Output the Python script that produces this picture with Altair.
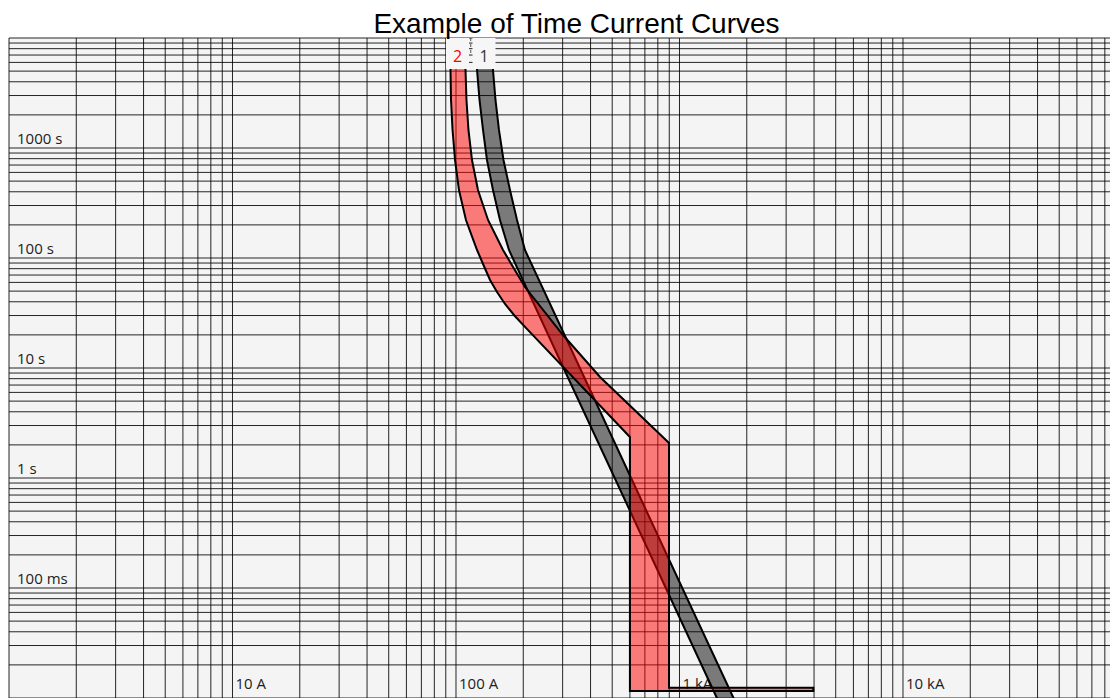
import math
import altair as alt
import pandas as pd

# ---- data: time-current bands (current in A, time in s) ----
# Curve 1 (grey band): lower (min) and upper (max) limits
c1_min_I = [122.9, 122.9, 124.2, 127.4, 132.1, 137.6, 146.4, 157.3, 172.6, 302.7, 513, 868.5, 1470, 1549]
c1_min_t = [11000, 10000, 5117, 2732, 1458, 778, 415, 221.6, 118.2, 10, 1, 0.1, 0.01, 0.008]
c1_max_I = [144.9, 144.9, 146.4, 150.2, 155.7, 163.1, 174.4, 187.5, 203.5, 358.4, 607.5, 1029, 1744, 1827]
c1_max_t = [11000, 10000, 5117, 2732, 1458, 778, 415, 221.6, 118.2, 10, 1, 0.1, 0.01, 0.008]

# Curve 2 (red band)
c2_min_I = [94.0, 94.0, 94.5, 95.0, 96.5, 99.0, 103.1, 110.8, 124.2, 132.7, 142.0, 152.6, 165.7,
            183.3, 209.6, 600, 600, 3970]
c2_min_t = [11000, 10000, 5117, 2732, 1458, 778, 415, 221.6, 118.2, 86.4, 63.1, 49.1, 38.2,
            29.7, 22.2, 2.36, 0.0116, 0.0116]
c2_max_I = [109.7, 109.7, 110.3, 111.4, 113.7, 117.9, 125.4, 139.1, 162.3, 203.5, 301.1, 441, 897.5, 897.5, 3970]
c2_max_t = [11000, 10000, 5117, 2732, 1458, 778, 415, 221.6, 118.2, 54.5, 19.95, 8.28, 2.08, 0.0124, 0.0124]

curve_names = ["1", "2"]
curve_colors = ["#333333", "#ff0000"]

# axis tick labels
x_label_values = [10, 100, 1000, 10000]
x_label_texts = ["10 A", "100 A", "1 kA", "10 kA"]
y_label_values = [0.1, 1, 10, 100, 1000]
y_label_texts = ["100 ms", "1 s", "10 s", "100 s", "1000 s"]

X_MIN, X_MAX = 1, 84370
Y_MIN, Y_MAX = 0.01, 10000

grid_x = [m * 10 ** k for k in range(0, 5) for m in range(1, 10)]
grid_y = [round(m * 10.0 ** k, 6) for k in range(-2, 4) for m in range(1, 10)] + [10000]


def poly(Imin, tmin, Imax, tmax, name):
    I = list(Imin) + list(Imax)[::-1]
    t = list(tmin) + list(tmax)[::-1]
    return pd.DataFrame({"I": I, "t": t, "order": list(range(len(I))), "curve": name})


df1 = poly(c1_min_I, c1_min_t, c1_max_I, c1_max_t, "1")
df2 = poly(c2_min_I, c2_min_t, c2_max_I, c2_max_t, "2")

x_scale = alt.Scale(type="log", domain=[X_MIN, X_MAX], nice=False, padding=0)
y_scale = alt.Scale(type="log", domain=[Y_MIN, Y_MAX], nice=False, padding=0)
X = lambda f: alt.X(f, scale=x_scale, axis=None)
Y = lambda f: alt.Y(f, scale=y_scale, axis=None)

GRID = dict(color="#000000", opacity=0.85, strokeWidth=1)
vgrid = alt.Chart(pd.DataFrame({"I": grid_x})).mark_rule(**GRID).encode(x=X("I:Q"))
hgrid = alt.Chart(pd.DataFrame({"t": grid_y})).mark_rule(**GRID).encode(y=Y("t:Q"))

TICKFONT = dict(font="Open Sans", fontSize=15, color="#222222", baseline="alphabetic", align="left")
xlab = alt.Chart(pd.DataFrame({"I": x_label_values, "t": [Y_MIN] * 4, "s": x_label_texts})).mark_text(
    dx=3, dy=-9, **TICKFONT
).encode(x=X("I:Q"), y=Y("t:Q"), text="s:N")
ylab = alt.Chart(pd.DataFrame({"I": [X_MIN] * 5, "t": y_label_values, "s": y_label_texts})).mark_text(
    dx=8, dy=-4, **TICKFONT
).encode(x=X("I:Q"), y=Y("t:Q"), text="s:N")


def band(df, fill):
    return alt.Chart(df).mark_line(
        interpolate="linear-closed", fill=fill, fillOpacity=0.5,
        stroke="black", strokeWidth=2, strokeJoin="miter", clip=True,
    ).encode(x=X("I:Q"), y=Y("t:Q"), order="order:Q")


band1 = band(df1, "#000000")
band2 = band(df2, "#ff0000")

# labels at the top of each band (centre of band top)
lab_I = [math.sqrt(c1_min_I[1] * c1_max_I[1]), math.sqrt(c2_min_I[1] * c2_max_I[1])]
lab_df = pd.DataFrame({"I": lab_I, "t": [Y_MAX, Y_MAX], "name": curve_names, "color": curve_colors})
sep_df = pd.DataFrame({"I": [math.sqrt(lab_I[0] * lab_I[1])]})

box = alt.Chart(lab_df).mark_rect(width=23, color="#f6f6f6").encode(
    x=X("I:Q"), y=alt.value(0), y2=alt.value(31),
)
sep = alt.Chart(sep_df).mark_rule(strokeDash=[3, 3], color="#555555", strokeWidth=1).encode(
    x=X("I:Q"), y=alt.value(0), y2=alt.value(18),
)
labels = alt.Chart(lab_df).mark_text(
    font="Open Sans", fontSize=16, baseline="alphabetic", align="center", dy=24,
).encode(
    x=X("I:Q"), y=Y("t:Q"), text="name:N", color=alt.Color("color:N", scale=None),
)

chart = alt.layer(vgrid, hgrid, xlab, ylab, band1, band2, box, sep, labels).properties(
    width=1101,
    height=660,
    padding={"left": 1, "top": 30, "right": 0, "bottom": 0},
    autosize=alt.AutoSizeParams(type="none"),
    title=alt.TitleParams(
        "Example of Time Current Curves", font="Liberation Sans", fontSize=28,
        fontWeight="normal", color="#000000", anchor="middle", frame="group",
        baseline="alphabetic", offset=6, dx=17, dy=29.5,
    ),
).configure(background="white").configure_view(fill="#f4f4f4", strokeWidth=0)

chart.save("out.html", embed_options={"renderer": "svg", "actions": False})
